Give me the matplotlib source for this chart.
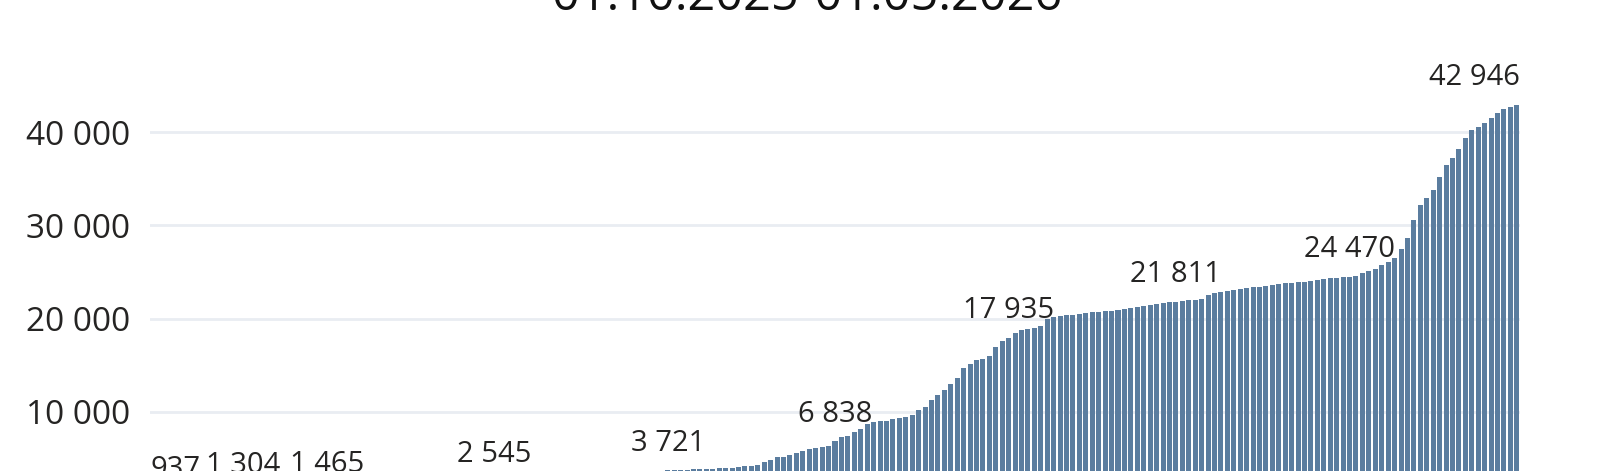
import matplotlib
matplotlib.use("Agg")
import matplotlib.pyplot as plt
from matplotlib.ticker import FuncFormatter

# cumulative daily totals, 01.10.2025 .. 01.05.2026
values = [
  937, 962, 990, 1015, 1041, 1068, 1092, 1118, 1150, 1181, 1219, 1250, 1279, 1292,
  1304, 1320, 1331, 1340, 1352, 1363, 1375, 1389, 1402, 1418, 1433, 1450,
  1458, 1465, 1522, 1560, 1597, 1631, 1668, 1702, 1740, 1781, 1815, 1849, 1880,
  1917, 1952, 1990, 2025, 2063, 2101, 2140, 2181, 2223, 2265, 2318, 2377, 2440, 2497,
  2545, 2590, 2640, 2688, 2735, 2784, 2830, 2871, 2915, 2960, 3003, 3041, 3080,
  3118, 3160, 3201, 3240, 3290, 3338, 3390, 3440, 3490, 3540, 3585, 3622, 3660, 3694,
  3721, 3750, 3778, 3800, 3825, 3850, 3876, 3900, 3925, 3952, 3990, 4050,
  4130, 4230, 4250, 4590, 4840, 5120, 5200, 5370, 5550, 5800, 5980, 6080, 6190, 6290,
  6838, 7280, 7450, 7800, 8200, 8650, 8850, 8980, 9060, 9170, 9280, 9450, 9700,
  10150, 10500, 11250, 11800, 12300, 12950, 13650, 14650, 15150, 15580, 15650,
  16000, 16900, 17580, 17935, 18480, 18720, 18880, 19020, 19250, 19900, 20200,
  20290, 20360, 20420, 20500, 20580, 20650, 20720, 20790, 20830, 20900, 21000,
  21110, 21250, 21370, 21480, 21560, 21650, 21730, 21811, 21880, 21950, 22000,
  22090, 22520, 22730, 22870, 22980, 23080, 23160, 23270, 23340, 23370, 23450,
  23590, 23690, 23770, 23800, 23870, 23940, 24010, 24090, 24190, 24300, 24370,
  24410, 24470, 24520, 24830, 25110, 25290, 25720, 26070, 26540, 27500, 28680,
  30560, 32120, 32940, 33830, 35190, 36500, 37210, 38170, 39410, 40230, 40590,
  41010, 41550, 42080, 42440, 42720, 42946,
]
# days that carry a value label
label_days = [0, 14, 27, 53, 80, 106, 133, 159, 186, 212]
y_ticks = [10000, 20000, 30000, 40000]
title = "01.10.2025-01.05.2026"

plt.rcParams['font.family'] = ['Open Sans', 'DejaVu Sans']

fig = plt.figure(figsize=(16.14, 4.71), dpi=100)
# the picture is cut: zero line lies below the bottom edge
ax = fig.add_axes([150 / 1614, -0.0722, 1370 / 1614, 0.8909])

x = list(range(len(values)))
ax.bar(x, values, width=0.78, color='#5b7d9f', zorder=2)

ax.set_xlim(-0.5, len(values) - 0.5)
ax.set_ylim(0, 45000)
ax.set_yticks(y_ticks)
ax.yaxis.set_major_formatter(FuncFormatter(lambda v, p: format(int(v), ',').replace(',', ' ')))
ax.tick_params(axis='y', length=0, pad=14, labelsize=24, labelcolor='#252423')
ax.tick_params(axis='x', length=0, labelbottom=False)
ax.grid(axis='y', color='#e9edf2', linewidth=2, zorder=0)
for s in ax.spines.values():
  s.set_visible(False)

# value labels, the first and last are kept inside the plot
for d in label_days:
  txt = format(values[d], ',').replace(',', ' ')
  if d == 0:
    xpos, ha = -0.5, 'left'
  elif d == len(values) - 1:
    xpos, ha = len(values) - 0.5, 'right'
  else:
    xpos, ha = d, 'center'
  ax.annotate(txt, (xpos, values[d]), xytext=(0, 14), textcoords='offset points',
              ha=ha, va='baseline', fontsize=21, color='#252423')

fig.text(0.5, 1 - 10 / 471, title, ha='center', va='baseline', fontsize=35, color='#111111')

fig.savefig('out.png', dpi=100)
